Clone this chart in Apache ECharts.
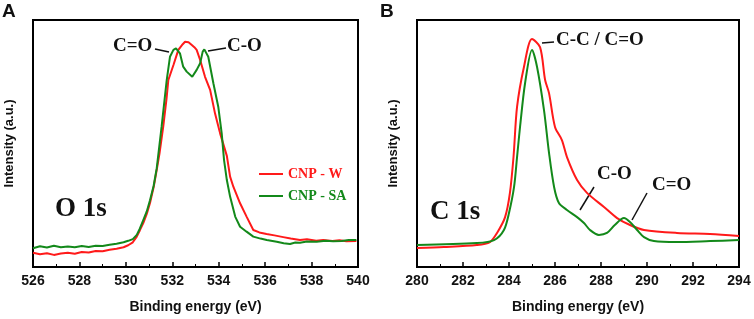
<!DOCTYPE html>
<html>
<head>
<meta charset="utf-8">
<script src="https://cdn.jsdelivr.net/npm/echarts@6/dist/echarts.min.js"></script>
<style>
html, body { margin: 0; padding: 0; background: #fff; }
#chart { width: 754px; height: 319px; }
</style>
</head>
<body>
<div id="chart"></div>
<script>
// O 1s spectra [binding energy eV, intensity a.u.]
const o1sW = [[526.0,5.8],[526.3,5.2],[526.6,5.6],[526.9,4.9],[527.2,5.5],[527.5,5.8],[527.8,5.4],[528.1,6.1],[528.4,5.9],[528.7,6.5],[529.0,6.4],[529.3,7.0],[529.6,7.4],[529.9,8.0],[530.1,8.8],[530.3,10.0],[530.47,12.3],[530.6,14.8],[530.75,17.8],[530.9,21.5],[531.04,25.9],[531.2,32.5],[531.33,39.3],[531.45,46],[531.61,56.8],[531.75,68],[531.83,75.7],[532.05,81.8],[532.26,87.9],[532.45,90.2],[532.55,91.2],[532.62,90.6],[532.7,91.0],[532.84,89.9],[532.95,89.0],[533.05,87.9],[533.2,83.8],[533.41,77],[533.63,71.7],[533.84,62.2],[534.06,54.1],[534.35,45],[534.49,36.6],[534.63,32.5],[534.92,25.8],[535.2,20.4],[535.49,15],[535.75,14.0],[536.06,13.4],[536.4,12.8],[536.78,12.1],[537.1,11.5],[537.5,10.9],[537.8,11.2],[538.2,10.6],[538.5,10.9],[538.9,10.5],[539.2,10.8],[539.5,10.4],[539.93,10.5]];
const o1sSA = [[526.0,7.6],[526.3,8.4],[526.6,7.9],[526.9,8.6],[527.2,8.0],[527.5,8.3],[527.8,8.0],[528.1,8.5],[528.4,8.1],[528.7,8.6],[529.0,8.5],[529.3,9.0],[529.6,9.4],[529.9,10.0],[530.1,10.6],[530.3,11.3],[530.47,13.0],[530.6,15.5],[530.75,19],[530.9,22.5],[531.04,27],[531.2,33],[531.33,40],[531.54,56.8],[531.76,75.7],[531.9,85.1],[532.05,87.9],[532.16,88.5],[532.33,86.5],[532.47,81.1],[532.62,79.1],[532.86,77],[533.05,79.8],[533.2,82.5],[533.31,87.2],[533.38,88.1],[533.55,85.1],[533.77,74.4],[533.98,64.9],[534.13,54],[534.23,43.3],[534.35,35.2],[534.49,28.5],[534.71,20.4],[534.92,16.3],[535.2,14.3],[535.49,12.3],[535.8,11.5],[536.07,10.9],[536.5,10.2],[536.8,9.6],[537.07,9.3],[537.3,9.9],[537.5,9.8],[537.8,10.3],[538.22,10.2],[538.6,10.6],[538.93,10.4],[539.3,10.5],[539.6,10.9],[539.93,10.9]];

// C 1s spectra
const c1sW = [[280.0,7.7],[281.17,8.1],[282.6,8.9],[283.17,10.1],[283.48,13.8],[283.83,20.2],[284.04,30],[284.2,45],[284.35,64.8],[284.65,81],[285.0,92.3],[285.35,89],[285.57,75.7],[285.74,70.4],[286.0,56.7],[286.3,51.4],[286.52,44.5],[286.96,35.2],[287.39,30],[288.13,24.3],[288.7,19.8],[289.26,17],[289.87,15],[291.3,13.8],[292.74,13.4],[294.0,12.6]];
const c1sSA = [[280.0,8.9],[282.6,9.7],[283.35,10.9],[283.78,15],[284.0,21.9],[284.22,32.4],[284.35,44.5],[284.48,56.7],[284.7,74.5],[285.0,87.9],[285.22,81],[285.52,63.6],[285.74,46.2],[285.96,32.4],[286.17,25.9],[286.52,23.1],[286.96,20.2],[287.26,17.8],[287.52,15],[287.91,13],[288.26,13.8],[288.6,17],[289.0,19.8],[289.26,18.2],[289.57,15],[289.87,12.1],[290.3,10.5],[291.3,10.1],[292.74,10.5],[294.0,10.9]];

const rangeO = [526, 540];
const rangeC = [280, 294];
const seriesNames = ['CNP - W', 'CNP - SA'];
const colors = ['#ff1a1a', '#13891a'];

const chart = echarts.init(document.getElementById('chart'));

const sans = 'Liberation Sans';
const serif = 'Liberation Serif';

function xAxis(idx, range) {
	return {
		type: 'value',
		gridIndex: idx,
		min: range[0],
		max: range[1],
		interval: 2,
		name: 'Binding energy (eV)',
		nameLocation: 'middle',
		nameGap: 33,
		nameTextStyle: { fontFamily: sans, fontWeight: 'bold', fontSize: 14, color: '#111' },
		axisLine: { show: true, lineStyle: { color: '#000', width: 2 } },
		axisTick: { show: true, inside: true, length: 5, lineStyle: { color: '#000', width: 1.5 } },
		minorTick: { show: true, splitNumber: 2, length: 3, lineStyle: { color: '#000' } },
		axisLabel: { fontFamily: sans, fontWeight: 'bold', fontSize: 14, color: '#111', margin: 7 },
		splitLine: { show: false }
	}
}

function yAxis(idx) {
	return {
		type: 'value',
		gridIndex: idx,
		min: 0,
		max: 100,
		name: 'Intensity (a.u.)',
		nameLocation: 'middle',
		nameGap: 17,
		nameTextStyle: { fontFamily: sans, fontWeight: 'bold', fontSize: 13, color: '#111' },
		axisLine: { show: true, lineStyle: { color: '#000', width: 2 } },
		axisTick: { show: false },
		axisLabel: { show: false },
		splitLine: { show: false }
	}
}

function line(name, data, idx, color) {
	return {
		name: name,
		type: 'line',
		xAxisIndex: idx,
		yAxisIndex: idx,
		data: data,
		symbol: 'none',
		smooth: idx === 1 ? 0.3 : false,
		lineStyle: { color: color, width: 2 },
		itemStyle: { color: color }
	}
}

function label(text, x, y, size) {
	return {
		type: 'text',
		left: x,
		top: y,
		style: { text: text, font: 'bold ' + size + 'px ' + serif, fill: '#111' }
	}
}

function leader(x1, y1, x2, y2) {
	return {
		type: 'line',
		shape: { x1: x1, y1: y1, x2: x2, y2: y2 },
		style: { stroke: '#111', lineWidth: 1.5 }
	}
}

chart.setOption({
	animation: false,
	grid: [
		{ left: 33, top: 20, width: 325, height: 247, show: true, borderColor: '#000', borderWidth: 2 },
		{ left: 417, top: 20, width: 322, height: 247, show: true, borderColor: '#000', borderWidth: 2 }
	],
	xAxis: [xAxis(0, rangeO), xAxis(1, rangeC)],
	yAxis: [yAxis(0), yAxis(1)],
	legend: {
		left: 254,
		top: 162,
		orient: 'vertical',
		icon: 'rect',
		itemWidth: 24,
		itemHeight: 2,
		itemGap: 8,
		data: [
			{ name: seriesNames[0], textStyle: { color: colors[0] } },
			{ name: seriesNames[1], textStyle: { color: colors[1] } }
		],
		textStyle: { fontFamily: serif, fontWeight: 'bold', fontSize: 14 }
	},
	series: [
		line(seriesNames[0], o1sW, 0, colors[0]),
		line(seriesNames[1], o1sSA, 0, colors[1]),
		line(seriesNames[0], c1sW, 1, colors[0]),
		line(seriesNames[1], c1sSA, 1, colors[1])
	],
	graphic: [
		{ type: 'text', left: 2, top: 2, style: { text: 'A', font: 'bold 19px ' + sans, fill: '#111' } },
		{ type: 'text', left: 380, top: 2, style: { text: 'B', font: 'bold 19px ' + sans, fill: '#111' } },
		label('C=O', 113, 37, 19),
		leader(155, 49, 169, 52),
		label('C-O', 227, 37, 19),
		leader(208, 51, 226, 48),
		label('O 1s', 55, 196, 27),
		label('C-C / C=O', 556, 31, 19),
		leader(542, 43, 554, 42),
		label('C-O', 597, 165, 19),
		leader(594, 187, 580, 210),
		label('C=O', 652, 176, 19),
		leader(647, 193, 632, 220),
		label('C 1s', 430, 199, 27)
	]
});
</script>
</body>
</html>
